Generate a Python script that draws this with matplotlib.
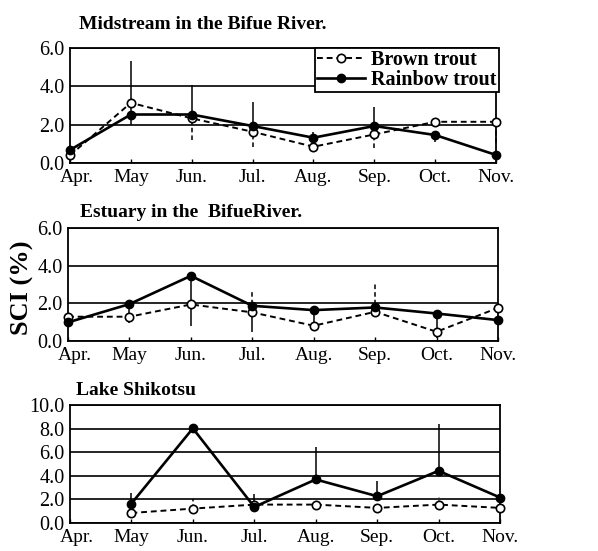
import numpy as np
import matplotlib
matplotlib.use("Agg")
import matplotlib.pyplot as plt
from matplotlib.transforms import ScaledTranslation

plt.rcParams['font.family'] = ['Liberation Serif', 'DejaVu Serif']

months = ["Apr.", "May", "Jun.", "Jul.", "Aug.", "Sep.", "Oct.", "Nov."]
nan = np.nan

# Midstream in the Bifue River
mid_brown = [0.40, 3.14, 2.33, 1.63, 0.85, 1.49, 2.15, 2.15]
mid_brown_lo = [0, 0, 1.13, 0.80, 0, 0.70, 0, 1.10]
mid_brown_hi = [0, 0, 0, 0, 0, 0, 0, 0]
mid_rainbow = [0.68, 2.53, 2.53, 1.93, 1.32, 1.93, 1.46, 0.42]
mid_rainbow_lo = [0, 0.55, 0, 0, 0, 0, 0.35, 0]
mid_rainbow_hi = [0, 2.78, 1.53, 1.24, 0.30, 1.00, 0, 0]

# Estuary in the Bifue River
est_brown = [1.29, 1.29, 1.94, 1.52, 0.81, 1.55, 0.49, 1.76]
est_brown_lo = [0, 0, 0, 0, 0, 0, 0, 0]
est_brown_hi = [0, 0, 0, 1.10, 0, 1.50, 0, 0]
est_rainbow = [0.99, 1.96, 3.46, 1.87, 1.64, 1.78, 1.46, 1.11]
est_rainbow_lo = [0, 1.00, 2.66, 1.38, 0.80, 0, 1.30, 0]
est_rainbow_hi = [0, 0, 0, 0, 0, 0, 0, 0]

# Lake Shikotsu
lake_brown = [nan, 0.85, 1.22, 1.56, 1.56, 1.28, 1.56, 1.28]
lake_brown_lo = [0, 0, 0, 0, 0, 0, 0, 0]
lake_brown_hi = [0, 0, 0.80, 0, 0, 0, 0.65, 0]
lake_rainbow = [nan, 1.65, 8.02, 1.36, 3.69, 2.27, 4.42, 2.16]
lake_rainbow_lo = [0, 0, 0, 0, 0, 0, 0, 0]
lake_rainbow_hi = [0, 0.90, 0, 1.08, 2.77, 1.30, 3.97, 0]

W, H = 598, 551
fig = plt.figure(figsize=(W / 100, H / 100), dpi=100)


def px_axes(left, right, top, bottom):
    return fig.add_axes([left / W, 1 - bottom / H, (right - left) / W, (bottom - top) / H])


def panel(ax, brown, brown_lo, brown_hi, rainbow, rb_lo, rb_hi, ymax):
    x = np.arange(len(months))
    ax.yaxis.grid(True, color='k', lw=1.2)
    ax.set_axisbelow(True)

    # error bars: solid for rainbow, dashed for brown
    eb = ax.errorbar(x, rainbow, yerr=[rb_lo, rb_hi], fmt='none', ecolor='k',
                     elinewidth=1.1, capsize=0, zorder=3)
    for c in eb[2]:
        c.set_clip_on(False)
    eb = ax.errorbar(x, brown, yerr=[brown_lo, brown_hi], fmt='none', ecolor='k',
                     elinewidth=1.1, capsize=0, zorder=3)
    for c in eb[2]:
        c.set_linestyle((0, (3, 2)))
        c.set_clip_on(False)

    lb, = ax.plot(x, brown, ls=(0, (3, 2)), color='k', lw=1.4, marker='o',
                  ms=6, mfc='white', mec='k', mew=1.2, clip_on=False, zorder=4,
                  label='Brown trout')
    lr, = ax.plot(x, rainbow, ls='-', color='k', lw=1.9, marker='o',
                  ms=6, mfc='k', mec='k', clip_on=False, zorder=5,
                  label='Rainbow trout')

    ax.set_xlim(0, len(months) - 1)
    ax.set_ylim(0, ymax)
    ax.set_yticks(np.arange(0, ymax + 0.1, 2))
    ax.set_yticklabels([f"{v:.1f}" for v in np.arange(0, ymax + 0.1, 2)])
    ax.set_xticks(x)
    ax.set_xticklabels(months)
    ax.tick_params(axis='y', length=0, pad=4, labelsize=14.5)
    ax.tick_params(axis='x', direction='in', length=3, width=1, pad=4, labelsize=14)
    # nudge the first month label off the corner
    first = ax.xaxis.get_major_ticks()[0].label1
    first.set_transform(first.get_transform() + ScaledTranslation(0.07, 0, fig.dpi_scale_trans))
    for s in ax.spines.values():
        s.set_linewidth(1.3)
        s.set_color('k')
    return lb, lr


ax1 = px_axes(70, 496, 48, 163)
lb, lr = panel(ax1, mid_brown, mid_brown_lo, mid_brown_hi,
               mid_rainbow, mid_rainbow_lo, mid_rainbow_hi, 6)
leg = ax1.legend(handles=[lb, lr], loc='upper right', bbox_to_anchor=(1.007, 1.0),
                 borderaxespad=0, fancybox=False, framealpha=1, edgecolor='k',
                 handlelength=2.4, handletextpad=0.3, borderpad=0.1,
                 labelspacing=0.0, prop={'weight': 'bold', 'size': 14.5})
leg.get_frame().set_linewidth(1.3)
leg.set_zorder(10)

ax2 = px_axes(68, 498, 228, 341)
panel(ax2, est_brown, est_brown_lo, est_brown_hi,
      est_rainbow, est_rainbow_lo, est_rainbow_hi, 6)

ax3 = px_axes(70, 500, 405, 523)
panel(ax3, lake_brown, lake_brown_lo, lake_brown_hi,
      lake_rainbow, lake_rainbow_lo, lake_rainbow_hi, 10)

title_kw = dict(fontsize=14, fontweight='bold', va='baseline', ha='left')
fig.text(79 / W, 1 - 29 / H, "Midstream in the Bifue River.", **title_kw)
fig.text(80 / W, 1 - 217 / H, "Estuary in the  BifueRiver.", **title_kw)
fig.text(76 / W, 1 - 395 / H, "Lake Shikotsu", **title_kw)

fig.text(22 / W, 1 - 288 / H, "SCI (%)", rotation=90, fontsize=19,
         fontweight='bold', ha='center', va='center')

fig.savefig("out.png", dpi=100)
